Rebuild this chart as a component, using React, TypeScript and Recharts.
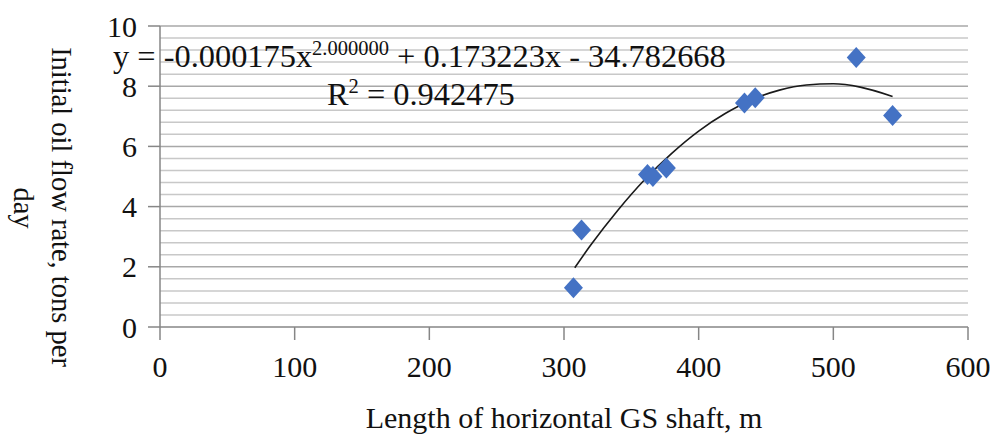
import { ComposedChart, Scatter, Line, XAxis, YAxis, CartesianGrid } from 'recharts';

// Measured points (length of horizontal GS shaft, m -> initial oil rate, t/day)
const shaftLength = [307, 313, 362, 366, 376, 434, 442, 517, 544];
const oilRate = [1.3, 3.22, 5.07, 5.0, 5.28, 7.44, 7.62, 8.95, 7.03];

// Polynomial trendline
const trendLength = [308, 320, 340, 360, 380, 400, 420, 440, 460, 480, 500, 520, 544];
const trendRate = [1.97, 2.73, 3.88, 4.9, 5.77, 6.51, 7.1, 7.56, 7.87, 8.04, 8.08, 7.97, 7.66];

const xTicks = [0, 100, 200, 300, 400, 500, 600];
const yTicks = [0, 2, 4, 6, 8, 10];
const yMinorLines = [0.4, 0.8, 1.2, 1.6, 2.4, 2.8, 3.2, 3.6, 4.4, 4.8, 5.2, 5.6, 6.4, 6.8, 7.2, 7.6, 8.4, 8.8, 9.2, 9.6];
const yMajorLines = [2, 4, 6, 8, 10];

const points = shaftLength.map((x, i) => ({ x, y: oilRate[i] }));
const trend = trendLength.map((x, i) => ({ x, y: trendRate[i] }));

const FONT = '"Liberation Serif", "Times New Roman", serif';
const AXIS = '#868686';

const Diamond = (props: any) => {
  const { cx, cy } = props;
  if (cx == null || cy == null) return null;
  return (
    <polygon
      points={`${cx},${cy - 10.5} ${cx + 9.5},${cy} ${cx},${cy + 10.5} ${cx - 9.5},${cy}`}
      fill="#4472C4"
    />
  );
};

const App = () => {
  return (
    <div style={{ position: 'absolute', left: 0, top: 0, width: 993, height: 436, background: '#fff', fontFamily: FONT }}>
      <ComposedChart width={993} height={436} margin={{ top: 26, right: 25, left: 0, bottom: 0 }}>
        <CartesianGrid vertical={false} horizontalValues={yMinorLines} stroke="#c8c8c8" strokeWidth={1.5} />
        <CartesianGrid vertical={false} horizontalValues={yMajorLines} stroke="#a8a8a8" strokeWidth={1.5} />
        <XAxis
          type="number"
          dataKey="x"
          domain={[0, 600]}
          ticks={xTicks}
          height={109}
          tickSize={13}
          tickMargin={16}
          stroke={AXIS}
          strokeWidth={1.5}
          tick={{ fill: '#111', fontSize: 30, fontFamily: FONT }}
          interval={0}
        />
        <YAxis
          type="number"
          dataKey="y"
          domain={[0, 10]}
          ticks={yTicks}
          width={160}
          tickSize={12}
          tickMargin={11}
          stroke={AXIS}
          strokeWidth={1.5}
          tick={{ fill: '#111', fontSize: 30, fontFamily: FONT }}
          interval={0}
        />
        <Line
          data={trend}
          dataKey="y"
          type="monotone"
          stroke="#1a1a1a"
          strokeWidth={1.6}
          dot={false}
          activeDot={false}
          isAnimationActive={false}
        />
        <Scatter data={points} dataKey="y" shape={Diamond} isAnimationActive={false} />
      </ComposedChart>
      <svg
        width={993}
        height={436}
        style={{ position: 'absolute', left: 0, top: 0, pointerEvents: 'none', fontFamily: FONT }}
      >
        <text x={113} y={67} fontSize={32.4} fill="#111" style={{ whiteSpace: 'pre' }}>
          y = -0.000175x
          <tspan fontSize={20.5} dy={-12}>2.000000</tspan>
          <tspan dy={12}> + 0.173223x - 34.782668</tspan>
        </text>
        <text x={327} y={105} fontSize={32.4} fill="#111" style={{ whiteSpace: 'pre' }}>
          R<tspan fontSize={20.5} dy={-12}>2</tspan>
          <tspan dy={12}> = 0.942475</tspan>
        </text>
        <text transform="translate(52,207) rotate(90)" textAnchor="middle" fontSize={28.5} fill="#111">
          Initial oil flow rate, tons per
        </text>
        <text transform="translate(14,208) rotate(90)" textAnchor="middle" fontSize={28.5} fill="#111">
          day
        </text>
        <text x={564} y={428} textAnchor="middle" fontSize={30} fill="#111">
          Length of horizontal GS shaft, m
        </text>
      </svg>
    </div>
  );
};

export default App;
